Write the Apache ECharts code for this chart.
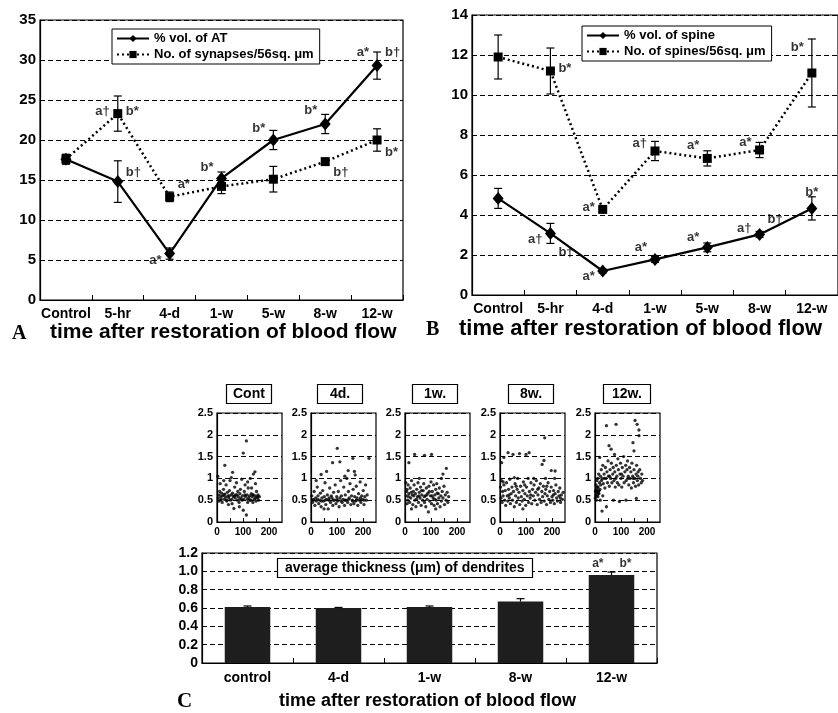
<!DOCTYPE html>
<html><head><meta charset="utf-8">
<script src="https://cdn.jsdelivr.net/npm/echarts@6/dist/echarts.min.js"></script>
<style>html,body{margin:0;padding:0;background:#fff}#c{width:838px;height:713px}</style>
</head><body><div id="c"></div>
<script>
// ---------- data ----------
const catsAB = ['Control','5-hr','4-d','1-w','5-w','8-w','12-w'];
const volAT = [17.6,14.8,5.8,15.2,20.0,22.0,29.3];
const volATErr = [0.6,2.6,0.7,0.8,1.2,1.2,1.7];
const synapses = [17.6,23.3,12.9,14.2,15.1,17.3,20.0];
const synapsesErr = [0.6,2.2,0.6,0.9,1.6,0.3,1.4];
const volSpine = [4.83,3.08,1.2,1.78,2.38,3.03,4.33];
const volSpineErr = [0.5,0.5,0.1,0.15,0.22,0.15,0.58];
const spines = [11.9,11.2,4.28,7.2,6.83,7.25,11.1];
const spinesErr = [1.1,1.15,0.12,0.48,0.38,0.38,1.7];

const catsC = ['control','4-d','1-w','8-w','12-w'];
const thickness = [0.61,0.60,0.61,0.67,0.96];
const thicknessErr = [0.012,0.006,0.012,0.032,0.032];

const scatterTitles = ['Cont','4d.','1w.','8w.','12w.'];
const ptsCont = [[5,0.55],[8,0.62],[10,0.7],[12,0.5],[15,0.58],[18,0.66],[20,0.45],[22,0.6],[25,0.75],[28,0.52],[30,1.3],[30,0.64],[33,0.57],[35,0.85],[38,0.48],[40,0.68],[42,0.6],[45,0.55],[48,0.72],[50,0.95],[52,0.5],[55,0.62],[58,0.42],[60,1.14],[60,0.66],[63,0.58],[65,0.31],[68,0.8],[70,0.55],[72,0.62],[75,0.9],[78,0.5],[80,0.7],[82,0.58],[85,0.45],[88,0.65],[90,0.75],[92,0.55],[95,0.98],[98,0.6],[101,1.58],[101,0.27],[103,0.52],[105,0.7],[108,0.85],[110,0.58],[113,1.86],[113,0.16],[115,0.62],[118,0.45],[120,0.78],[122,0.55],[125,0.6],[128,1.0],[130,0.5],[132,0.65],[135,0.58],[138,0.45],[140,1.1],[140,0.62],[143,0.52],[146,1.15],[148,0.6],[150,0.48],[152,0.7],[155,0.55],[158,0.62],[160,0.5],[163,0.58],[12,0.88],[26,0.95],[44,0.4],[86,0.35],[118,0.92],[133,0.78],[148,0.88],[3,1.05],[55,1.02],[7,0.48],[17,0.52],[27,0.62],[36,0.5],[47,0.6],[57,0.52],[67,0.6],[77,0.62],[87,0.52],[97,0.5],[107,0.62],[117,0.52],[127,0.5],[137,0.62],[147,0.55],[157,0.58]];
const pts4d = [[3,0.6],[6,0.45],[9,0.52],[12,0.7],[15,0.38],[18,0.55],[21,0.48],[24,0.8],[27,0.6],[30,0.42],[33,0.5],[36,0.66],[39,1.09],[39,0.35],[42,0.55],[45,0.72],[48,0.48],[51,0.58],[54,0.9],[57,0.4],[60,1.16],[60,0.52],[63,0.62],[66,0.3],[69,0.5],[72,0.78],[75,0.45],[78,0.6],[81,0.55],[83,1.36],[84,0.38],[87,0.68],[90,0.5],[93,0.85],[96,0.42],[99,0.58],[101,1.69],[102,0.48],[105,0.7],[108,0.35],[111,1.38],[111,0.55],[114,0.95],[117,0.6],[120,0.45],[123,0.52],[126,0.8],[129,0.38],[132,0.62],[135,0.5],[138,1.0],[141,0.45],[143,1.18],[144,0.7],[147,0.55],[150,0.88],[153,0.4],[156,0.6],[159,0.5],[161,1.46],[162,0.75],[165,0.42],[167,1.16],[168,0.58],[171,0.48],[174,0.82],[177,0.55],[180,0.38],[183,0.65],[186,0.5],[189,0.92],[192,0.45],[195,0.6],[198,0.52],[201,0.72],[204,0.4],[207,0.58],[210,0.85],[213,0.5],[216,0.62],[223,1.46],[20,0.95],[50,0.3],[130,1.05],[170,1.08],[10,0.5],[25,0.52],[40,0.48],[55,0.5],[70,0.55],[85,0.5],[100,0.52],[115,0.48],[130,0.5],[145,0.52],[160,0.48],[175,0.5],[190,0.55],[205,0.5]];
const pts1w = [[3,0.9],[5,0.6],[8,0.75],[10,0.5],[12,0.85],[15,1.36],[15,0.65],[18,0.45],[20,0.78],[22,0.55],[25,0.95],[28,0.62],[30,0.4],[32,0.7],[35,0.85],[37,1.55],[38,0.5],[40,0.65],[42,0.35],[45,0.75],[48,0.58],[50,0.9],[52,0.45],[55,0.68],[58,0.55],[60,0.8],[62,0.38],[65,0.62],[68,0.5],[70,0.72],[72,0.88],[75,1.53],[75,0.45],[78,0.6],[80,0.35],[82,0.78],[85,0.52],[88,0.66],[90,0.23],[92,0.82],[95,0.48],[98,0.6],[100,0.92],[102,1.55],[102,0.42],[105,0.7],[108,0.55],[110,0.85],[112,0.38],[115,0.62],[118,0.75],[120,0.5],[122,0.88],[125,0.42],[128,0.65],[130,0.55],[132,0.78],[135,0.35],[138,0.6],[140,1.0],[140,0.48],[143,0.7],[146,1.1],[146,0.55],[150,0.82],[152,0.4],[155,0.62],[158,0.5],[159,1.23],[162,0.68],[165,0.45],[168,0.58],[25,0.3],[55,1.0],[118,0.3],[8,0.42],[6,0.7],[14,0.58],[24,0.68],[34,0.6],[44,0.52],[54,0.6],[64,0.72],[74,0.58],[84,0.62],[94,0.7],[104,0.6],[114,0.52],[124,0.66]];
const pts8w = [[2,0.8],[4,0.55],[6,1.36],[6,0.95],[8,0.45],[10,0.7],[12,0.6],[15,1.48],[15,0.85],[18,0.5],[20,0.72],[22,0.38],[25,0.9],[28,0.6],[31,1.59],[30,0.48],[33,0.75],[36,0.55],[38,0.98],[40,0.42],[43,0.65],[46,0.8],[50,1.55],[48,0.5],[52,0.7],[55,0.35],[58,0.88],[60,0.6],[63,0.45],[66,0.75],[68,1.0],[70,0.55],[73,0.68],[75,1.57],[76,0.4],[79,0.82],[82,0.58],[85,0.48],[88,0.72],[90,0.92],[93,0.52],[96,0.65],[100,1.55],[99,0.38],[102,0.8],[105,0.6],[108,1.0],[110,0.45],[112,1.59],[113,0.7],[116,0.55],[119,0.9],[122,0.42],[125,0.75],[128,0.6],[131,0.85],[134,0.5],[137,0.68],[140,0.95],[143,0.4],[146,0.62],[149,0.78],[152,0.52],[155,0.88],[158,0.45],[162,1.32],[161,0.7],[164,0.58],[169,1.41],[167,0.82],[170,0.48],[172,1.93],[173,0.65],[176,0.75],[179,0.4],[182,0.6],[185,0.9],[188,0.52],[191,0.7],[194,0.45],[197,1.18],[197,0.8],[200,0.58],[203,0.5],[206,0.72],[209,0.42],[212,1.17],[212,0.65],[215,0.85],[218,0.55],[221,0.48],[224,0.7],[227,0.6],[230,0.78],[233,0.45],[236,0.62],[240,0.52],[243,0.68],[130,1.0],[175,1.0],[210,1.0],[55,1.02],[88,0.3],[12,0.92],[35,0.62],[62,0.82],[95,0.85],[118,0.62],[145,0.75],[180,0.82],[205,0.62],[232,0.55]];
const pts12w = [[1,0.55],[2,0.7],[3,0.62],[4,0.85],[5,0.5],[6,0.75],[7,0.95],[8,0.6],[9,0.68],[10,1.0],[11,0.58],[12,0.8],[13,0.7],[14,1.1],[15,0.65],[17,0.9],[18,1.48],[19,0.75],[21,1.05],[22,0.85],[24,1.2],[25,0.95],[27,0.25],[27,1.0],[30,1.3],[32,0.88],[35,1.1],[38,0.78],[40,1.25],[42,1.0],[44,2.21],[44,0.35],[46,1.15],[48,0.9],[50,1.4],[52,1.05],[54,1.75],[55,0.82],[58,1.2],[60,1.0],[62,1.67],[63,1.35],[65,0.9],[68,1.1],[70,1.25],[71,0.5],[73,0.95],[75,1.55],[76,1.15],[78,0.8],[81,2.24],[82,1.3],[84,1.05],[86,0.9],[88,1.45],[90,1.2],[92,0.85],[94,0.47],[96,1.1],[98,1.35],[100,1.0],[103,0.8],[105,1.25],[108,1.05],[110,1.5],[112,0.9],[115,1.15],[118,1.3],[119,0.5],[120,0.95],[123,1.2],[125,1.4],[128,1.05],[130,0.85],[133,1.25],[135,1.0],[138,1.15],[140,0.78],[142,1.35],[145,1.05],[146,1.82],[148,0.9],[150,1.63],[150,1.2],[153,1.0],[154,2.33],[156,0.82],[159,0.54],[158,1.1],[160,1.3],[162,2.24],[163,0.95],[165,1.05],[168,0.85],[169,2.11],[169,1.98],[172,1.2],[175,1.0],[178,0.9],[180,1.1],[183,0.95],[30,0.6],[20,0.5],[3,0.72],[6,0.6],[9,0.8],[12,0.66],[16,0.72],[36,1.0],[56,1.05],[80,1.0],[102,1.1],[126,1.0],[147,1.0],[166,1.15]];
const scatterData = [ptsCont, pts4d, pts1w, pts8w, pts12w];

// annotation labels: [category, value, text, side]
const annotA = [['5-hr',23.6,'a†','left'],['5-hr',23.6,'b*','right'],['5-hr',16.0,'b†','right'],
 ['4-d',14.4,'a*','right'],['4-d',5.0,'a*','left'],['1-w',16.6,'b*','left'],
 ['5-w',21.5,'b*','left'],['8-w',23.75,'b*','left'],['8-w',15.9,'b†','right'],
 ['12-w',31.0,'a*','left'],['12-w',31.0,'b†','right'],['12-w',18.5,'b*','right']];
const annotB = [['5-hr',11.35,'b*','right'],['4-d',4.4,'a*','left'],['1-w',7.6,'a†','left'],
 ['5-w',7.5,'a*','left'],['8-w',7.65,'a*','left'],['12-w',12.4,'b*','left'],
 ['5-hr',2.8,'a†','left'],['5-hr',2.15,'b†','right'],['4-d',0.95,'a*','left'],
 ['1-w',2.4,'a*','left'],['5-w',2.9,'a*','left'],['8-w',3.35,'a†','left'],
 ['8-w',3.8,'b†','right'],['12-w',5.15,'b*','inside']];
const annotC = [['12-w',1.08,'a*','left'],['12-w',1.08,'b*','right']];

// ---------- chart ----------
const FONT = 'Liberation Sans, Arial, sans-serif';
const SERIF = 'Liberation Serif, Times New Roman, serif';
const chart = echarts.init(document.getElementById('c'), null, {renderer:'canvas'});

const dashed = {show:true, lineStyle:{color:'#000', type:[5,3], width:1}};
const blackLine = {show:true, lineStyle:{color:'#000', width:1.2}};

function errRender(capHalf, upOnly){
  return function(params, api){
    const x = api.value(0), y = api.value(1), e = api.value(2);
    const top = api.coord([x, y + e]);
    const bot = api.coord([x, upOnly ? y : y - e]);
    const st = {stroke:'#000', lineWidth:1.2};
    const ch = [
      {type:'line', shape:{x1:top[0],y1:top[1],x2:bot[0],y2:bot[1]}, style:st},
      {type:'line', shape:{x1:top[0]-capHalf,y1:top[1],x2:top[0]+capHalf,y2:top[1]}, style:st}
    ];
    if(!upOnly) ch.push({type:'line', shape:{x1:bot[0]-capHalf,y1:bot[1],x2:bot[0]+capHalf,y2:bot[1]}, style:st});
    return {type:'group', children:ch};
  };
}
function errSeries(cats, vals, errs, xi, cap, upOnly){
  return {type:'custom', xAxisIndex:xi, yAxisIndex:xi, z:3,
    renderItem: errRender(cap, upOnly),
    encode:{x:0, y:1},
    data: cats.map((c,i)=>[i, vals[i], errs[i]])};
}
function annotSeries(list, xi, fs){
  return {type:'scatter', xAxisIndex:xi, yAxisIndex:xi, symbolSize:10, z:5,
    itemStyle:{color:'rgba(0,0,0,0)'}, silent:true,
    data: list.map(a=>({value:[a[0],a[1]], label:{show:true, formatter:a[2], position:a[3], distance:3,
      color:'#000', fontFamily:FONT, fontWeight:'bold', fontSize:fs}}))};
}

const grids = [
  {left:40, top:20, width:363, height:280},
  {left:472, top:15, width:368, height:280}
];
const scLefts = [217,311,405,500,595];
scLefts.forEach(l=>grids.push({left:l, top:413, width:65, height:109}));
grids.push({left:202, top:553, width:455, height:110});
grids.forEach(g=>{g.show=true; g.borderColor='#000'; g.borderWidth=1.2; g.containLabel=false;});

const catAxis = (gi, data, fs, margin)=>({type:'category', gridIndex:gi, data:data, boundaryGap:true,
  axisLine:blackLine, axisTick:{show:true, inside:true, length:5, lineStyle:{color:'#000'}},
  axisLabel:{color:'#000', fontFamily:FONT, fontWeight:'bold', fontSize:fs, margin:margin, interval:0},
  splitLine:{show:false}});
const valAxis = (gi, max, interval, fs, fmt)=>({type:'value', gridIndex:gi, min:0, max:max, interval:interval,
  axisLine:blackLine, axisTick:{show:false}, splitLine:dashed,
  axisLabel:{color:'#000', fontFamily:FONT, fontWeight:'bold', fontSize:fs, margin:4, formatter:fmt}});

const xAxes = [catAxis(0, catsAB, 14, 7), catAxis(1, catsAB, 14, 7)];
const yAxes = [valAxis(0, 35, 5, 15), valAxis(1, 14, 2, 15)];
for(let k=0;k<5;k++){
  xAxes.push({type:'value', gridIndex:2+k, min:0, max:250, interval:50,
    axisLine:blackLine, axisTick:{show:true, inside:true, length:4, lineStyle:{color:'#000'}}, splitLine:{show:false},
    axisLabel:{color:'#000', fontFamily:FONT, fontWeight:'bold', fontSize:10, margin:5, showMaxLabel:false,
      formatter:v=> (v % 100 === 0 ? String(v) : '')}});
  yAxes.push(valAxis(2+k, 2.5, 0.5, 11, v=>String(+v.toFixed(1))));
}
xAxes.push(catAxis(7, catsC, 14, 8));
yAxes.push(valAxis(7, 1.2, 0.2, 14, v=> v===0 ? '0' : v.toFixed(1)));

const series = [
  {name:'% vol. of AT', type:'line', xAxisIndex:0, yAxisIndex:0, data:volAT, symbol:'diamond', symbolSize:[11,13],
    itemStyle:{color:'#000'}, lineStyle:{color:'#000', width:2.2}, z:4},
  {name:'No. of synapses/56sq. μm', type:'line', xAxisIndex:0, yAxisIndex:0, data:synapses, symbol:'rect', symbolSize:9,
    itemStyle:{color:'#000'}, lineStyle:{color:'#000', width:2.5, type:[2,3]}, z:4},
  errSeries(catsAB, volAT, volATErr, 0, 4, false),
  errSeries(catsAB, synapses, synapsesErr, 0, 4, false),
  {name:'% vol. of spine', type:'line', xAxisIndex:1, yAxisIndex:1, data:volSpine, symbol:'diamond', symbolSize:[11,13],
    itemStyle:{color:'#000'}, lineStyle:{color:'#000', width:2.2}, z:4},
  {name:'No. of spines/56sq. μm', type:'line', xAxisIndex:1, yAxisIndex:1, data:spines, symbol:'rect', symbolSize:9,
    itemStyle:{color:'#000'}, lineStyle:{color:'#000', width:2.5, type:[2,3]}, z:4},
  errSeries(catsAB, volSpine, volSpineErr, 1, 4, false),
  errSeries(catsAB, spines, spinesErr, 1, 4, false),
  annotSeries(annotA, 0, 13),
  annotSeries(annotB, 1, 13)
];
scatterData.forEach((d,k)=>series.push({type:'scatter', xAxisIndex:2+k, yAxisIndex:2+k, data:d,
  symbolSize:3.3, itemStyle:{color:'#000'}, silent:true}));
series.push({type:'bar', xAxisIndex:7, yAxisIndex:7, data:thickness, barWidth:'50%',
  itemStyle:{color:'#1e1e1e'}, z:2});
series.push(errSeries(catsC, thickness, thicknessErr, 7, 4, true));
series.push(annotSeries(annotC, 7, 12));

const legendBase = {orient:'vertical', borderColor:'#000', borderWidth:1, backgroundColor:'#fff',
  itemWidth:32, itemHeight:9, itemGap:3, padding:[3,6,3,4], selectedMode:false,
  textStyle:{color:'#000', fontFamily:FONT, fontWeight:'bold', fontSize:13}};
const legends = [
  Object.assign({}, legendBase, {left:112, top:29, data:['% vol. of AT','No. of synapses/56sq. μm']}),
  Object.assign({}, legendBase, {left:582, top:26, data:['% vol. of spine','No. of spines/56sq. μm']})
];

const tStyle = (fs)=>({color:'#000', fontFamily:FONT, fontWeight:'bold', fontSize:fs});
const titles = [
  {text:'A', left:12, top:324, textStyle:{color:'#000', fontFamily:SERIF, fontWeight:'bold', fontSize:20}, padding:0},
  {text:'time after restoration of blood flow', left:50, top:322, textStyle:tStyle(21), padding:0},
  {text:'B', left:426, top:320, textStyle:{color:'#000', fontFamily:SERIF, fontWeight:'bold', fontSize:20}, padding:0},
  {text:'time after restoration of blood flow', left:459, top:318, textStyle:tStyle(22), padding:0},
  {text:'C', left:177, top:691, textStyle:{color:'#000', fontFamily:SERIF, fontWeight:'bold', fontSize:21}, padding:0},
  {text:'time after restoration of blood flow', left:279, top:692, textStyle:tStyle(18), padding:0},
  {text:'average thickness (μm) of dendrites', left:277, top:558, borderColor:'#000', borderWidth:1.2,
    backgroundColor:'#fff', padding:[3,8], textStyle:tStyle(14)}
];
const boxPad = [[3,7],[3,13],[3,12],[3,12],[3,9]];
const boxLeft = [226,317,412,508,603];
scatterTitles.forEach((t,k)=>titles.push({text:t, left:boxLeft[k], top:384, borderColor:'#000', borderWidth:1.2,
  padding:boxPad[k], textStyle:tStyle(14)}));

chart.setOption({
  animation:false,
  backgroundColor:'#fff',
  title:titles,
  legend:legends,
  grid:grids,
  xAxis:xAxes,
  yAxis:yAxes,
  series:series
});
</script></body></html>
